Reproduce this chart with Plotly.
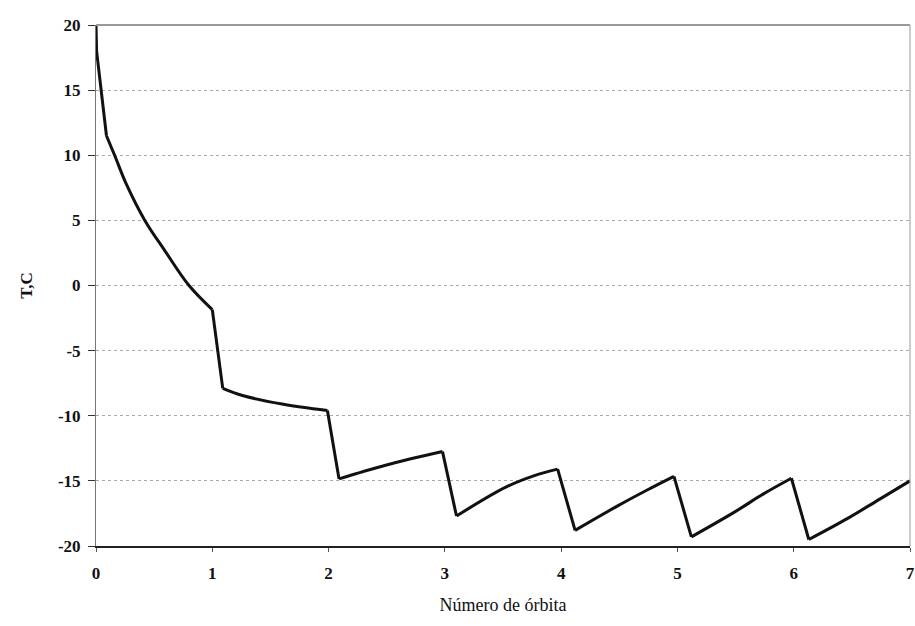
import plotly.graph_objects as go

# Temperature vs. orbit number
orbit = [0.0, 0.005, 0.09, 0.16, 0.26, 0.42, 0.59, 0.80, 1.0,
         1.09, 1.26, 1.60, 1.99,
         2.09, 2.49, 2.98,
         3.10, 3.52, 3.77, 3.97,
         4.12, 4.49, 4.74, 4.97,
         5.12, 5.49, 5.74, 5.98,
         6.13, 6.46, 6.74, 7.0]
temp_c = [20.0, 18.0, 11.5, 10.0, 7.8, 5.0, 2.7, 0.0, -1.85,
          -7.9, -8.45, -9.1, -9.6,
          -14.85, -13.8, -12.75,
          -17.7, -15.5, -14.6, -14.1,
          -18.8, -16.9, -15.7, -14.65,
          -19.3, -17.4, -16.0, -14.8,
          -19.5, -17.9, -16.4, -15.0]

# index ranges of smooth (cooling / warming) stretches
smooth_pieces = [(2, 8), (9, 12), (13, 15), (16, 19), (20, 23), (24, 27), (28, 31)]
# index ranges of the sharp straight drops between them
sharp_pieces = [(0, 2), (8, 9), (12, 13), (15, 16), (19, 20), (23, 24), (27, 28)]

x_ticks = [0, 1, 2, 3, 4, 5, 6, 7]
y_ticks = [20, 15, 10, 5, 0, -5, -10, -15, -20]
y_tick_text = ["20", "15", "10", "5", "0", "-5", "-10", "-15", "-20"]

font_family = "Liberation Serif"
tick_font = dict(family=font_family, size=17, color="#111111", weight="bold")
line_style = dict(color="#111111", width=3)

fig = go.Figure()
for a, b in sharp_pieces:
    fig.add_trace(go.Scatter(
        x=orbit[a:b + 1], y=temp_c[a:b + 1], mode="lines",
        line=dict(**line_style), showlegend=False,
    ))
for a, b in smooth_pieces:
    fig.add_trace(go.Scatter(
        x=orbit[a:b + 1], y=temp_c[a:b + 1], mode="lines",
        line=dict(**line_style, shape="spline", smoothing=1.0),
        showlegend=False,
    ))

fig.update_layout(
    width=915, height=626,
    margin=dict(l=96, r=5, t=25, b=80, autoexpand=False),
    paper_bgcolor="white",
    plot_bgcolor="white",
    font=dict(family=font_family, size=17, color="#111111"),
    xaxis=dict(
        range=[0, 7],
        tickvals=x_ticks,
        tickfont=tick_font,
        ticklabeloverflow="allow",
        ticklabelstandoff=7,
        automargin=False,
        ticks="outside", ticklen=4, tickcolor="#555555",
        showgrid=False, zeroline=False,
        showline=True, linecolor="#222222", linewidth=2,
        title=dict(text="Número de órbita", font=dict(size=18), standoff=16),
    ),
    yaxis=dict(
        range=[-20, 20],
        tickvals=y_ticks, ticktext=y_tick_text,
        tickfont=tick_font,
        ticklabelstandoff=4,
        automargin=False,
        ticks="outside", ticklen=7, tickcolor="#333333",
        showgrid=True, gridcolor="#aaaaaa", griddash="dot", gridwidth=1,
        zeroline=False,
        showline=True, linecolor="#777777", linewidth=1,
        title=dict(text="T,C", font=dict(size=17, weight="bold"), standoff=20),
    ),
)

# top and right frame edges
fig.add_shape(type="line", xref="paper", yref="paper", x0=0, x1=1, y0=1, y1=1,
              line=dict(color="#999999", width=2))
fig.add_shape(type="line", xref="paper", yref="paper", x0=1, x1=1, y0=0, y1=1,
              line=dict(color="#999999", width=1))

fig.write_html("out.html")
